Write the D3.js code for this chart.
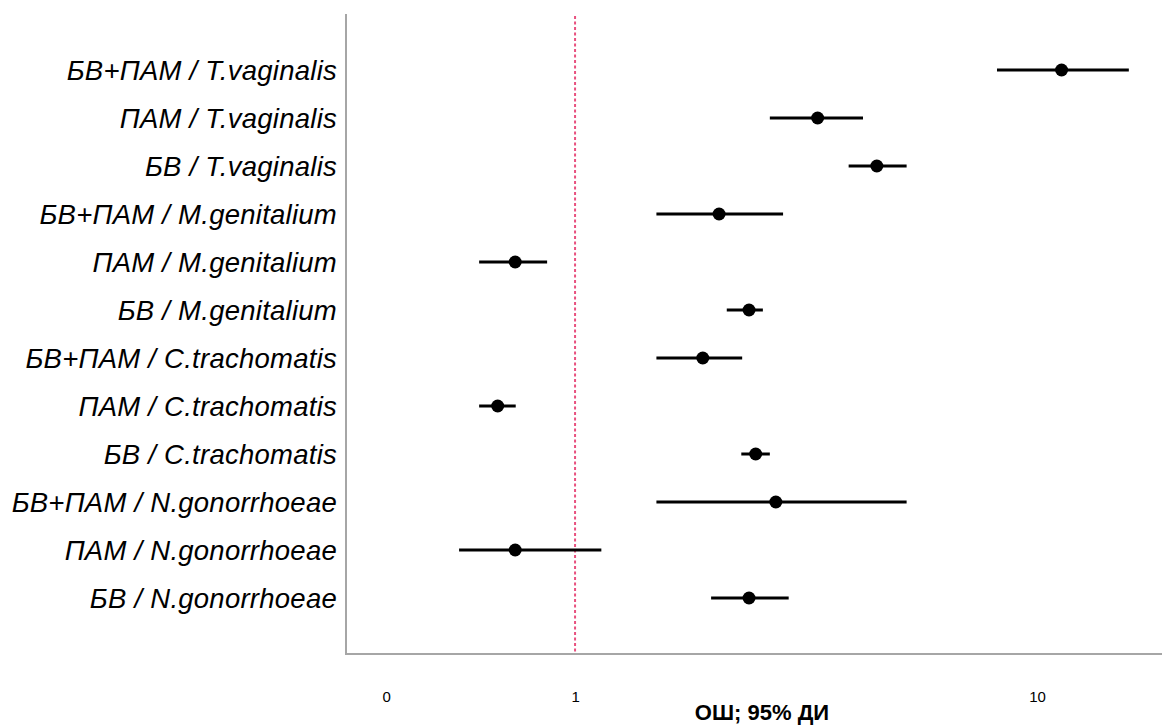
<!DOCTYPE html>
<html>
<head>
<meta charset="utf-8">
<script src="https://cdn.jsdelivr.net/npm/d3@7"></script>
<style>
  html, body { margin: 0; padding: 0; background: #fff; }
  svg { display: block; }
</style>
</head>
<body>
<svg id="chart" width="1162" height="725"></svg>
<script>
// ---- data ----
const categories = [
  "БВ+ПАМ / T.vaginalis",
  "ПАМ / T.vaginalis",
  "БВ / T.vaginalis",
  "БВ+ПАМ / M.genitalium",
  "ПАМ / M.genitalium",
  "БВ / M.genitalium",
  "БВ+ПАМ / C.trachomatis",
  "ПАМ / C.trachomatis",
  "БВ / C.trachomatis",
  "БВ+ПАМ / N.gonorrhoeae",
  "ПАМ / N.gonorrhoeae",
  "БВ / N.gonorrhoeae"
];
const oddsRatio = [11.3, 3.35, 4.50, 2.05, 0.742, 2.38, 1.89, 0.680, 2.46, 2.72, 0.742, 2.38];
const ciLower   = [8.19, 2.64, 3.91, 1.50, 0.620, 2.13, 1.50, 0.620, 2.29, 1.50, 0.561, 1.97];
const ciUpper   = [15.8, 4.20, 5.22, 2.82, 0.870, 2.55, 2.30, 0.744, 2.64, 5.22, 1.14, 2.90];
const tickValues = [0.39, 1, 10];
const tickLabels = ["0", "1", "10"];
const referenceValue = 1;
const axisTitle = "ОШ; 95% ДИ";

// ---- layout ----
const W = 1162, H = 725;
const plotLeft = 346, plotRight = 1162, plotTop = 14, plotBottom = 654;
const svg = d3.select("#chart");
svg.append("rect").attr("width", W).attr("height", H).attr("fill", "#fff");

const x = d3.scaleLog().domain([0.3193, 18.64]).range([plotLeft, plotRight]);
const y = d3.scalePoint().domain(categories).range([70, 598]);

const rows = categories.map((c, i) => ({ c, or: oddsRatio[i], lo: ciLower[i], hi: ciUpper[i] }));

// reference line
svg.append("line")
  .attr("x1", x(referenceValue)).attr("x2", x(referenceValue))
  .attr("y1", plotTop + 2).attr("y2", plotBottom)
  .attr("stroke", "#e8517f").attr("stroke-width", 2)
  .attr("stroke-dasharray", "3,2.5");

// frame (left + bottom)
svg.append("line")
  .attr("x1", plotLeft).attr("x2", plotLeft)
  .attr("y1", plotTop).attr("y2", plotBottom)
  .attr("stroke", "#a6a6a6").attr("stroke-width", 2);
svg.append("line")
  .attr("x1", plotLeft - 1).attr("x2", plotRight)
  .attr("y1", plotBottom).attr("y2", plotBottom)
  .attr("stroke", "#a6a6a6").attr("stroke-width", 2);

// x axis tick labels via d3 axis
const xAxis = d3.axisBottom(x)
  .tickValues(tickValues)
  .tickFormat((d, i) => tickLabels[i])
  .tickSize(0)
  .tickPadding(0);
const gx = svg.append("g")
  .attr("transform", `translate(0,${plotBottom})`)
  .call(xAxis);
gx.select(".domain").remove();
gx.selectAll("text")
  .attr("y", 0)
  .attr("dy", 0)
  .attr("transform", "translate(0,48)")
  .style("font-family", "'Liberation Sans', Arial, sans-serif")
  .style("font-size", "15px")
  .attr("fill", "#000");

// axis title
svg.append("text")
  .attr("x", (plotLeft + plotRight) / 2 + 8)
  .attr("y", 720)
  .attr("text-anchor", "middle")
  .style("font-family", "'Liberation Sans', Arial, sans-serif")
  .style("font-weight", "bold")
  .style("font-size", "22px")
  .attr("fill", "#000")
  .text(axisTitle);

// category labels via d3 axis
const yAxis = d3.axisLeft(y).tickSize(0).tickPadding(0);
const gy = svg.append("g")
  .attr("transform", `translate(337,0)`)
  .call(yAxis);
gy.select(".domain").remove();
gy.selectAll("text")
  .attr("x", 0)
  .attr("dy", "0.36em")
  .style("font-family", "'Liberation Sans', Arial, sans-serif")
  .style("font-style", "italic")
  .style("font-size", "27.5px")
  .style("letter-spacing", "0.25px")
  .attr("fill", "#000");

// CI lines
svg.append("g").selectAll("line")
  .data(rows).join("line")
  .attr("x1", d => x(d.lo)).attr("x2", d => x(d.hi))
  .attr("y1", d => y(d.c)).attr("y2", d => y(d.c))
  .attr("stroke", "#000").attr("stroke-width", 3);

// points
svg.append("g").selectAll("circle")
  .data(rows).join("circle")
  .attr("cx", d => x(d.or)).attr("cy", d => y(d.c))
  .attr("r", 6.5)
  .attr("fill", "#000");
</script>
</body>
</html>
